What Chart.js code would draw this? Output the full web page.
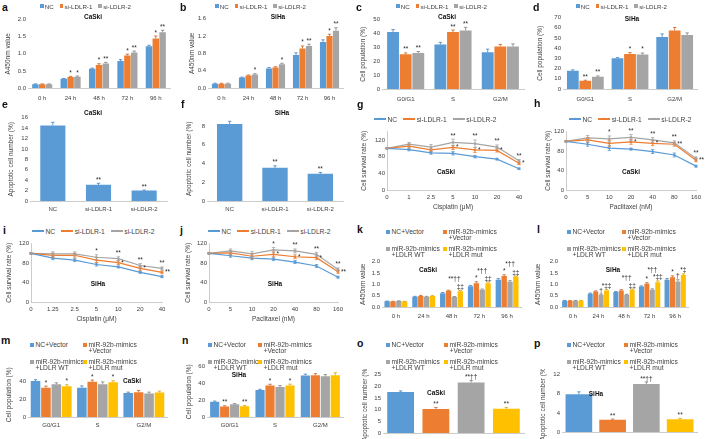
<!DOCTYPE html>
<html>
<head>
<meta charset="utf-8">
<title>LDLR figure</title>
<script src="https://cdn.jsdelivr.net/npm/chart.js@4.4.1/dist/chart.umd.min.js"></script>
<style>
  html, body { margin: 0; padding: 0; background: #fff; overflow: hidden; }
  #fig { position: relative; width: 707px; height: 439px; overflow: hidden;
         font-family: 'Liberation Sans', Arial, sans-serif; color: #404040; }
  #fig canvas { position: absolute; }
  .letter { position: absolute; font-size: 10.5px; font-weight: bold; line-height: 10px; color: #111; }
  .ttl { position: absolute; font-size: 6.5px; font-weight: bold; color: #111; white-space: nowrap;
         line-height: 8px; transform: translate(-50%, -50%); }
  .leg { position: absolute; display: flex; align-items: center; height: 8px; font-size: 6.2px;
         white-space: nowrap; transform: translateY(-50%); }
  .leg .it { display: flex; align-items: center; margin-right: 6px; }
  .leg .sq { width: 3.6px; height: 3.6px; margin-right: 1.2px; }
  .leg .ln { position: relative; width: 12px; height: 1.2px; margin-right: 1.5px; }
  .leg .ln::after { content: ''; position: absolute; left: 4.8px; top: -0.6px; width: 2.4px; height: 2.4px;
                    background: inherit; transform: rotate(45deg); }
  .leg4 { position: absolute; display: flex; align-items: flex-start; font-size: 6.7px; line-height: 5.8px;
          white-space: pre; }
  .leg4 .sq { width: 4px; height: 4px; margin-top: 0.9px; margin-right: 1.5px; flex: none; }
</style>
</head>
<body>
<div id="fig"></div>
<script>
// ---- categories / tick labels ----
const timeLabels = ['0 h', '24 h', '48 h', '72 h', '96 h'];
const phaseLabels = ['G0/G1', 'S', 'G2/M'];
const siLabels = ['NC', 'si-LDLR-1', 'si-LDLR-2'];
const cisCaskiDoses = ['0', '1', '2.5', '5', '10', '20', '40'];
const cisSihaDoses = ['0', '1.25', '2.5', '5', '10', '20', '40'];
const ptxDoses = ['0', '5', '10', '20', '40', '80', '160'];
const mimicLabels = ['NC+Vector', 'miR-92b-mimics\n+Vector', 'miR-92b-mimics\n+LDLR WT', 'miR-92b-mimics\n+LDLR mut'];

// ---- a: CaSki A450 ----
const aNC = [0.11, 0.27, 0.56, 0.79, 1.22];
const aSi1 = [0.11, 0.32, 0.67, 0.95, 1.45];
const aSi2 = [0.11, 0.33, 0.72, 1.04, 1.63];
const aNCErr = [0.01, 0.01, 0.02, 0.04, 0.03];
const aSi1Err = [0.01, 0.02, 0.04, 0.04, 0.07];
const aSi2Err = [0.01, 0.02, 0.03, 0.04, 0.06];
const aSi1Stars = ['', '*', '*', '*', '*'];
const aSi2Stars = ['', '*', '**', '**', '**'];

// ---- b: SiHa A450 ----
const bNC = [0.10, 0.24, 0.45, 0.76, 1.06];
const bSi1 = [0.10, 0.29, 0.47, 0.91, 1.20];
const bSi2 = [0.10, 0.31, 0.55, 0.97, 1.32];
const bNCErr = [0.01, 0.01, 0.02, 0.05, 0.05];
const bSi1Err = [0.01, 0.01, 0.02, 0.06, 0.04];
const bSi2Err = [0.01, 0.02, 0.02, 0.04, 0.07];
const bSi1Stars = ['', '', '', '*', '*'];
const bSi2Stars = ['', '*', '*', '**', '**'];

// ---- c/d: cell cycle ----
const cNC = [41, 32, 26.5];
const cSi1 = [25, 41, 30.7];
const cSi2 = [26, 42.2, 30.7];
const cNCErr = [1.8, 1.6, 2.2];
const cSi1Err = [1, 1.5, 1.4];
const cSi2Err = [1, 2.2, 1.8];
const cStars = ['**', '**', ''];
const dNC = [18, 30.2, 51];
const dSi1 = [8, 34.2, 57.3];
const dSi2 = [12, 33.8, 53];
const dNCErr = [0.8, 0.6, 3];
const dSi1Err = [0.6, 1.5, 3];
const dSi2Err = [0.8, 1.5, 2];
const dStars = ['**', '*', ''];

// ---- e/f: apoptosis ----
const eVals = [14.5, 3.1, 2.0];
const eErr = [0.6, 0.3, 0.1];
const fVals = [8.2, 3.55, 2.9];
const fErr = [0.3, 0.2, 0.15];
const efStars = ['', '**', '**'];

// ---- g-j: survival curves ----
const gNC = [100, 97, 89, 88, 80, 74, 51];
const gSi1 = [100, 105, 96, 102, 96, 95, 64];
const gSi2 = [100, 110, 103, 114, 111, 103, 70];
const gNCErr = [1, 3, 3, 4, 3, 2, 2];
const gSi1Err = [1, 4, 3, 5, 6, 4, 3];
const gSi2Err = [1, 4, 6, 8, 9, 5, 3];
const gSi1Stars = ['', '', '', '*', '*', '*', '*'];
const gSi2Stars = ['', '', '', '**', '**', '**', '**'];

const hNC = [100, 94, 86, 84, 79, 72, 49];
const hSi1 = [100, 103, 96, 99, 96, 94, 61];
const hSi2 = [100, 107, 105, 108, 103, 97, 65];
const hNCErr = [1, 4, 5, 2, 4, 4, 2];
const hSi1Err = [1, 4, 6, 5, 5, 4, 3];
const hSi2Err = [1, 5, 6, 6, 5, 4, 3];
const hSi1Stars = ['', '', '', '*', '*', '**', '**'];
const hSi2Stars = ['', '', '*', '**', '**', '**', '**'];

const iNC = [100, 90, 86, 77, 72, 61, 52];
const iSi1 = [100, 96, 96, 86, 81, 69, 61];
const iSi2 = [100, 99, 99, 92, 89, 75, 69];
const iNCErr = [1, 3, 3, 3, 2, 2, 2];
const iSi1Err = [1, 4, 4, 5, 4, 4, 3];
const iSi2Err = [1, 4, 4, 5, 4, 4, 3];
const iSi1Stars = ['', '', '', '', '*', '*', '**'];
const iSi2Stars = ['', '', '', '*', '**', '**', '**'];

const jNC = [100, 95, 90, 88, 82, 74, 51];
const jSi1 = [100, 101, 94, 98, 93, 91, 62];
const jSi2 = [100, 105, 99, 107, 105, 98, 67];
const jNCErr = [1, 3, 3, 3, 3, 3, 2];
const jSi1Err = [1, 4, 5, 5, 4, 4, 3];
const jSi2Err = [1, 4, 5, 5, 4, 4, 3];
const jSi1Stars = ['', '', '', '*', '*', '*', '**'];
const jSi2Stars = ['', '', '', '*', '**', '**', '**'];

// ---- k/l: rescue A450 ----
const kNC = [0.25, 0.45, 0.61, 0.91, 1.20];
const kMim = [0.24, 0.48, 0.72, 1.05, 1.37];
const kWT = [0.26, 0.45, 0.44, 0.76, 1.11];
const kMut = [0.24, 0.48, 0.69, 1.05, 1.33];
const kNCErr = [0.01, 0.02, 0.03, 0.04, 0.05];
const kMimErr = [0.01, 0.03, 0.02, 0.06, 0.05];
const kWTErr = [0.01, 0.02, 0.02, 0.03, 0.05];
const kMutErr = [0.01, 0.02, 0.04, 0.05, 0.03];
const kMimStars = ['', '', '', '*', '*'];
const kWTHigh = ['', '', '**††', '*††', '*††'];
const kMutStars = ['', '', '‡‡', '‡‡', '‡‡'];

const lNC = [0.28, 0.58, 0.66, 0.90, 1.20];
const lMim = [0.27, 0.68, 0.73, 1.02, 1.31];
const lWT = [0.28, 0.54, 0.54, 0.76, 1.12];
const lMut = [0.28, 0.73, 0.76, 1.09, 1.41];
const lNCErr = [0.01, 0.03, 0.02, 0.03, 0.05];
const lMimErr = [0.01, 0.03, 0.03, 0.05, 0.06];
const lWTErr = [0.01, 0.03, 0.02, 0.04, 0.08];
const lMutErr = [0.01, 0.04, 0.03, 0.06, 0.05];
const lMimStars = ['', '', '', '*', '*'];
const lWTStars = ['', '†', '', '', '†'];
const lWTHigh = ['', '', '*††', '*††', ''];
const lMutStars = ['', '*‡‡', '‡‡', '*‡‡', '*‡'];

// ---- m/n: rescue cell cycle ----
const mNC = [40.5, 33, 27];
const mMim = [33, 39.6, 28];
const mWT = [37, 37, 26.5];
const mMut = [34.5, 39, 27.6];
const mNCErr = [1.5, 2, 1];
const mMimErr = [1.8, 2, 1.8];
const mWTErr = [1.5, 2.5, 1.5];
const mMutErr = [1.8, 1.8, 1.5];
const mStars = ['*', '*', ''];
const nNC = [18.2, 32, 49.5];
const nMim = [12.6, 37.5, 49.8];
const nWT = [15.3, 35.6, 48.5];
const nMut = [12.8, 37.6, 49.6];
const nNCErr = [0.8, 1, 1.5];
const nMimErr = [0.8, 1.5, 1.8];
const nWTErr = [0.6, 1.8, 2];
const nMutErr = [0.8, 1.5, 3];
const nStars = ['**', '*', ''];

// ---- o/p: rescue apoptosis ----
const oVals = [17.5, 10.3, 21.6, 10.4];
const oErr = [0.5, 0.6, 0.9, 0.5];
const pVals = [7.9, 2.55, 10.05, 2.65];
const pErr = [0.5, 0.15, 0.4, 0.2];
const opStars = ['', '**', '**††', '**'];

const BLUE = '#5B9BD5', ORANGE = '#ED7D31', GRAY = '#A5A5A5', YELLOW = '#FFC000';
const DARK = { [BLUE]: '#3F7FBF', [ORANGE]: '#C9601F', [GRAY]: '#7F7F7F', [YELLOW]: '#D9A000' };
const siColors = [BLUE, ORANGE, GRAY];
const mimicColors = [BLUE, ORANGE, GRAY, YELLOW];
const FONT = "'Liberation Sans', Arial, sans-serif";
const TXT = '#404040';
const AXIS = '#BFBFBF';
const tickFont = { family: FONT, size: 6 };
const titleFont = { family: FONT, size: 6.5 };

const fig = document.getElementById('fig');

const errorPlugin = {
  id: 'errorBars',
  afterDatasetsDraw(chart) {
    const ctx = chart.ctx;
    const y = chart.scales.y;
    const both = chart.config.type === 'line';
    ctx.save();
    ctx.lineWidth = 0.8;
    chart.data.datasets.forEach((ds, i) => {
      if (!ds.errors) return;
      chart.getDatasetMeta(i).data.forEach((el, j) => {
        const e = ds.errors[j];
        if (!e) return;
        const v = ds.data[j];
        const c = Array.isArray(ds.backgroundColor) ? ds.backgroundColor[j] : ds.backgroundColor;
        const yt = y.getPixelForValue(v + e);
        const yb = both ? y.getPixelForValue(v - e) : el.y;
        const cap = 1.7;
        ctx.strokeStyle = both ? c : DARK[c];
        ctx.beginPath();
        ctx.moveTo(el.x, yt); ctx.lineTo(el.x, yb);
        ctx.moveTo(el.x - cap, yt); ctx.lineTo(el.x + cap, yt);
        if (both) { ctx.moveTo(el.x - cap, yb); ctx.lineTo(el.x + cap, yb); }
        ctx.stroke();
      });
    });
    ctx.restore();
  }
};

const starPlugin = {
  id: 'stars',
  afterDatasetsDraw(chart) {
    const ctx = chart.ctx;
    const y = chart.scales.y;
    const sets = chart.data.datasets;
    const topOf = (s, j) => y.getPixelForValue(s.data[j] + (s.errors ? s.errors[j] : 0));
    ctx.save();
    ctx.fillStyle = '#262626';
    ctx.font = '6.5px ' + FONT;
    ctx.textBaseline = 'alphabetic';
    sets.forEach((ds, i) => {
      chart.getDatasetMeta(i).data.forEach((el, j) => {
        if (ds.stars && ds.stars[j]) {
          ctx.textAlign = 'center';
          ctx.fillText(ds.stars[j], el.x, topOf(ds, j) - 1.5);
        }
        if (ds.starsRight && ds.starsRight[j]) {
          ctx.textAlign = 'left';
          ctx.fillText(ds.starsRight[j], el.x + 3, el.y + 2);
        }
        if (ds.starsHigh && ds.starsHigh[j]) {
          let top = Infinity;
          sets.forEach(s => { top = Math.min(top, topOf(s, j)); });
          ctx.textAlign = 'center';
          ctx.fillText(ds.starsHigh[j], el.x, top - 9);
        }
      });
    });
    ctx.restore();
  }
};

const barSet = (data, errors, color, extra) =>
  Object.assign({ data, errors, backgroundColor: color, borderWidth: 0 }, extra);
const lineSet = (data, errors, color, extra) =>
  Object.assign({ data, errors, borderColor: color, backgroundColor: color, borderWidth: 1.2,
    pointRadius: 1.6, pointStyle: 'rectRot', pointBorderWidth: 0, tension: 0 }, extra);

function makeChart(p) {
  const [x0, x1, y0, y1] = p.plot;
  const isLine = p.type === 'line';
  const left = Math.round(p.titleX - 3.9);
  const W = x0 - left;
  const padTop = 5;
  const padRight = isLine ? 9 : 3;
  const xH = isLine ? 20.6 : p.xPad + 8;
  const w = x1 - left + padRight;
  const h = Math.ceil(y1 - y0 + padTop + xH);
  const cv = document.createElement('canvas');
  cv.width = w; cv.height = h;
  cv.style.left = left + 'px';
  cv.style.top = (y0 - padTop) + 'px';
  fig.appendChild(cv);
  p.datasets.forEach(d => { d.categoryPercentage = p.cat; d.barPercentage = p.bar || 0.92; });
  new Chart(cv, {
    type: p.type,
    data: { labels: p.labels, datasets: p.datasets },
    options: {
      responsive: false,
      animation: false,
      devicePixelRatio: 1,
      layout: { padding: { top: padTop, right: padRight, left: 0, bottom: 0 } },
      plugins: { legend: { display: false }, tooltip: { enabled: false } },
      scales: {
        x: {
          offset: !isLine,
          grid: { display: false, drawTicks: false },
          border: { display: true, color: AXIS, width: 0.8 },
          ticks: { display: p.xTicks !== false, font: tickFont, color: TXT, padding: p.xPad,
                   autoSkip: false, maxRotation: 0 },
          title: { display: !!p.xTitle, text: p.xTitle || '', font: titleFont, color: TXT, padding: 0 },
          afterFit: s => { s.height = h - (y1 - y0 + padTop); }
        },
        y: {
          min: 0, max: p.yMax,
          grid: { display: false, drawTicks: false },
          border: { display: isLine, color: AXIS, width: 0.8 },
          ticks: { stepSize: p.step, font: tickFont, color: TXT, padding: 2,
                   callback: v => v.toFixed(p.dec || 0) },
          title: { display: true, text: p.yTitle, font: titleFont, color: TXT, padding: 0 },
          afterFit: s => { s.width = W; }
        }
      }
    },
    plugins: [errorPlugin, starPlugin]
  });
}

function letter(t, x, y) {
  const d = document.createElement('div');
  d.className = 'letter'; d.textContent = t;
  d.style.left = x + 'px'; d.style.top = y + 'px';
  fig.appendChild(d);
}
function title(t, x, y) {
  const d = document.createElement('div');
  d.className = 'ttl'; d.textContent = t;
  d.style.left = x + 'px'; d.style.top = y + 'px';
  fig.appendChild(d);
}
function legend(names, colors, x, y, lines) {
  const d = document.createElement('div');
  d.className = 'leg';
  d.style.left = x + 'px'; d.style.top = y + 'px';
  if (lines) d.style.fontSize = '6.7px';
  names.forEach((n, i) => {
    const it = document.createElement('span');
    it.className = 'it';
    const mk = document.createElement('span');
    mk.className = lines ? 'ln' : 'sq';
    mk.style.background = colors[i];
    it.appendChild(mk);
    it.appendChild(document.createTextNode(n));
    d.appendChild(it);
  });
  fig.appendChild(d);
}
function legend4(names, colors, xa, xb, y) {
  const pos = [[xa, y], [xb, y], [xa, y + 16.7], [xb, y + 16.7]];
  names.forEach((n, i) => {
    const d = document.createElement('div');
    d.className = 'leg4';
    d.style.left = pos[i][0] + 'px';
    d.style.top = (pos[i][1] - 2.9) + 'px';
    const sq = document.createElement('span');
    sq.className = 'sq'; sq.style.background = colors[i];
    const tx = document.createElement('span');
    tx.textContent = n;
    d.appendChild(sq); d.appendChild(tx);
    fig.appendChild(d);
  });
}

// ---------- row 1 ----------
makeChart({ type: 'bar', plot: [28, 170, 19, 88], titleX: 8, xPad: 6.5, labels: timeLabels,
  yMax: 2, step: 0.5, dec: 1, yTitle: 'A450nm value', cat: 0.72, bar: 0.95,
  datasets: [barSet(aNC, aNCErr, BLUE), barSet(aSi1, aSi1Err, ORANGE, { stars: aSi1Stars }),
             barSet(aSi2, aSi2Err, GRAY, { stars: aSi2Stars })] });
makeChart({ type: 'bar', plot: [208, 343, 18, 88], titleX: 192, xPad: 6.5, labels: timeLabels,
  yMax: 1.6, step: 0.2, dec: 1, yTitle: 'A450nm value', cat: 0.72, bar: 0.95,
  datasets: [barSet(bNC, bNCErr, BLUE), barSet(bSi1, bSi1Err, ORANGE, { stars: bSi1Stars }),
             barSet(bSi2, bSi2Err, GRAY, { stars: bSi2Stars })] });
makeChart({ type: 'bar', plot: [382, 524, 19, 89], titleX: 363, xPad: 6.5, labels: phaseLabels,
  yMax: 50, step: 10, yTitle: 'Cell population (%)', cat: 0.8, bar: 0.94,
  datasets: [barSet(cNC, cNCErr, BLUE), barSet(cSi1, cSi1Err, ORANGE, { stars: cStars }),
             barSet(cSi2, cSi2Err, GRAY, { stars: cStars })] });
makeChart({ type: 'bar', plot: [563, 697, 17, 89], titleX: 540, xPad: 6.5, labels: phaseLabels,
  yMax: 70, step: 10, yTitle: 'Cell population (%)', cat: 0.84, bar: 0.94,
  datasets: [barSet(dNC, dNCErr, BLUE), barSet(dSi1, dSi1Err, ORANGE, { stars: dStars }),
             barSet(dSi2, dSi2Err, GRAY, { stars: dStars })] });

// ---------- row 2 ----------
makeChart({ type: 'bar', plot: [30, 167, 117, 201], titleX: 11, xPad: 4.8, labels: siLabels,
  yMax: 16, step: 2, yTitle: 'Apoptotic cell number (%)', cat: 0.55, bar: 1,
  datasets: [barSet(eVals, eErr, BLUE, { stars: efStars })] });
makeChart({ type: 'bar', plot: [207, 343, 116, 201], titleX: 189, xPad: 4.8, labels: siLabels,
  yMax: 9, step: 1, yTitle: 'Apoptotic cell number (%)', cat: 0.56, bar: 1,
  datasets: [barSet(fVals, fErr, BLUE, { stars: efStars })] });
makeChart({ type: 'line', plot: [387, 519, 131, 190], titleX: 364, xPad: 3.6, labels: cisCaskiDoses,
  yMax: 140, step: 20, yTitle: 'Cell survival rate (%)', xTitle: 'Cisplatin (μM)',
  datasets: [lineSet(gNC, gNCErr, BLUE), lineSet(gSi1, gSi1Err, ORANGE, { starsRight: gSi1Stars }),
             lineSet(gSi2, gSi2Err, GRAY, { stars: gSi2Stars })] });
makeChart({ type: 'line', plot: [566, 696, 131, 190], titleX: 548, xPad: 3.6, labels: ptxDoses,
  yMax: 120, step: 20, yTitle: 'Cell survival rate (%)', xTitle: 'Paclitaxel (nM)',
  datasets: [lineSet(hNC, hNCErr, BLUE), lineSet(hSi1, hSi1Err, ORANGE, { starsRight: hSi1Stars }),
             lineSet(hSi2, hSi2Err, GRAY, { stars: hSi2Stars })] });

// ---------- row 3 ----------
makeChart({ type: 'line', plot: [31, 162, 243, 302], titleX: 9, xPad: 3.6, labels: cisSihaDoses,
  yMax: 120, step: 20, yTitle: 'Cell survival rate (%)', xTitle: 'Cisplatin (μM)',
  datasets: [lineSet(iNC, iNCErr, BLUE), lineSet(iSi1, iSi1Err, ORANGE, { starsRight: iSi1Stars }),
             lineSet(iSi2, iSi2Err, GRAY, { stars: iSi2Stars })] });
makeChart({ type: 'line', plot: [209, 338, 243, 302], titleX: 188, xPad: 3.6, labels: ptxDoses,
  yMax: 120, step: 20, yTitle: 'Cell survival rate (%)', xTitle: 'Paclitaxel (nM)',
  datasets: [lineSet(jNC, jNCErr, BLUE), lineSet(jSi1, jSi1Err, ORANGE, { starsRight: jSi1Stars }),
             lineSet(jSi2, jSi2Err, GRAY, { stars: jSi2Stars })] });
makeChart({ type: 'bar', plot: [382, 521, 261, 307], titleX: 363, xPad: 5.9, labels: timeLabels,
  yMax: 2, step: 0.5, dec: 1, yTitle: 'A450nm value', cat: 0.84, bar: 0.92,
  datasets: [barSet(kNC, kNCErr, BLUE), barSet(kMim, kMimErr, ORANGE, { stars: kMimStars }),
             barSet(kWT, kWTErr, GRAY, { starsHigh: kWTHigh }), barSet(kMut, kMutErr, YELLOW, { stars: kMutStars })] });
makeChart({ type: 'bar', plot: [560, 688, 261, 307], titleX: 538, xPad: 5.9, labels: timeLabels,
  yMax: 2, step: 0.5, dec: 1, yTitle: 'A450nm value', cat: 0.85, bar: 0.92,
  datasets: [barSet(lNC, lNCErr, BLUE), barSet(lMim, lMimErr, ORANGE, { stars: lMimStars }),
             barSet(lWT, lWTErr, GRAY, { stars: lWTStars, starsHigh: lWTHigh }),
             barSet(lMut, lMutErr, YELLOW, { stars: lMutStars })] });

// ---------- row 4 ----------
makeChart({ type: 'bar', plot: [28, 167, 372, 417], titleX: 9, xPad: 4.7, labels: phaseLabels,
  yMax: 50, step: 10, yTitle: 'Cell population (%)', cat: 0.9, bar: 0.92,
  datasets: [barSet(mNC, mNCErr, BLUE), barSet(mMim, mMimErr, ORANGE, { stars: mStars }),
             barSet(mWT, mWTErr, GRAY), barSet(mMut, mMutErr, YELLOW, { stars: mStars })] });
makeChart({ type: 'bar', plot: [207, 343, 366, 417], titleX: 189, xPad: 4.7, labels: phaseLabels,
  yMax: 60, step: 10, yTitle: 'Cell population (%)', cat: 0.88, bar: 0.92,
  datasets: [barSet(nNC, nNCErr, BLUE), barSet(nMim, nMimErr, ORANGE, { stars: nStars }),
             barSet(nWT, nWTErr, GRAY), barSet(nMut, nMutErr, YELLOW, { stars: nStars })] });
makeChart({ type: 'bar', plot: [383, 524, 374, 433], titleX: 365, xPad: 5, labels: mimicLabels,
  xTicks: false, yMax: 25, step: 5, yTitle: 'Apoptotic cell number (%)', cat: 0.76, bar: 1,
  datasets: [barSet(oVals, oErr, mimicColors, { stars: opStars })] });
makeChart({ type: 'bar', plot: [562, 697, 374, 432], titleX: 543, xPad: 5, labels: mimicLabels,
  xTicks: false, yMax: 12, step: 2, yTitle: 'Apoptotic cell number (%)', cat: 0.79, bar: 1,
  datasets: [barSet(pVals, pErr, mimicColors, { stars: opStars })] });

// ---------- text: letters, titles, legends ----------
letter('a', 2, 1.5); letter('b', 180, 1.5); letter('c', 356, 1.5); letter('d', 533, 1.5);
letter('e', 2, 98.5); letter('f', 181, 98.5); letter('g', 357, 98.5); letter('h', 534, 97.5);
letter('i', 3, 225); letter('j', 180, 225); letter('k', 357, 223.5); letter('l', 537, 223.5);
letter('m', 1, 335); letter('n', 182, 335); letter('o', 357, 337.5); letter('p', 534, 337.5);

title('CaSki', 93, 17); title('SiHa', 278, 17); title('CaSki', 447, 17); title('SiHa', 632, 19);
title('CaSki', 93, 113); title('SiHa', 282, 113); title('CaSki', 446, 172); title('CaSki', 631, 172);
title('SiHa', 98, 284); title('SiHa', 275, 284); title('CaSki', 428, 270); title('SiHa', 613, 270);
title('CaSki', 132, 381); title('SiHa', 239, 375); title('CaSki', 436, 393); title('SiHa', 596, 394);

legend(siLabels, siColors, 40, 6); legend(siLabels, siColors, 215, 6);
legend(siLabels, siColors, 396, 6); legend(siLabels, siColors, 576, 6);
legend(siLabels, siColors, 374, 119, true); legend(siLabels, siColors, 569, 119, true);
legend(siLabels, siColors, 32, 231, true); legend(siLabels, siColors, 208, 231, true);

legend4(mimicLabels, mimicColors, 386, 443, 232);
legend4(mimicLabels, mimicColors, 567, 622, 232);
legend4(mimicLabels, mimicColors, 30, 83, 345);
legend4(mimicLabels, mimicColors, 208, 258, 345);
legend4(mimicLabels, mimicColors, 386, 444, 345);
legend4(mimicLabels, mimicColors, 567, 624, 345);
</script>
</body>
</html>
